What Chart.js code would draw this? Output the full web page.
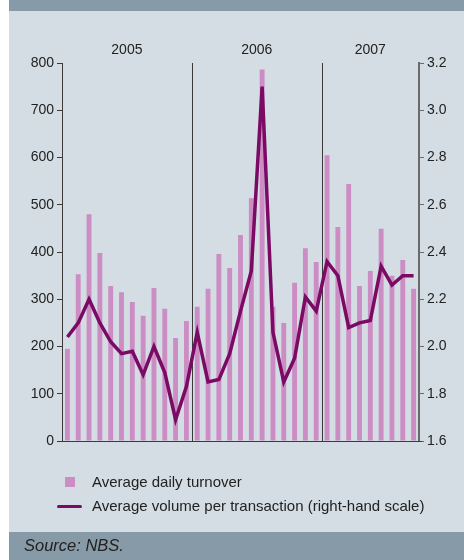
<!DOCTYPE html>
<html>
<head>
<meta charset="utf-8">
<script src="https://cdn.jsdelivr.net/npm/chart.js@4/dist/chart.umd.min.js"></script>
<style>
  html, body { margin: 0; padding: 0; background: #fff; }
  #wrap { position: relative; width: 464px; height: 560px; overflow: hidden; font-family: "Liberation Sans", Arial, sans-serif; color: #222; }
  #panel { position: absolute; left: 9px; top: 0; width: 455px; height: 560px; background: #d3dde3; }
  #head { position: absolute; left: 9px; top: 0; width: 455px; height: 11px; background: #869ba7; }
  #foot { position: absolute; left: 9px; top: 532px; width: 455px; height: 28px; background: #869ba7; }
  #foot span { position: absolute; left: 15px; top: 4px; font-size: 16.5px; font-style: italic; color: #222; }
  #chart { position: absolute; left: 0; top: 0; }
  .leg { position: absolute; left: 0; font-size: 15px; line-height: 18px; white-space: nowrap; }
  .leg i { position: absolute; display: block; }
  .leg span { position: absolute; left: 92px; top: 0; }
</style>
</head>
<body>
<div id="wrap">
  <div id="panel"></div>
  <div id="head"></div>
  <canvas id="chart" width="464" height="560"></canvas>
  <div class="leg" style="top:473px;width:464px;height:18px">
    <i style="left:65px;top:4px;width:10px;height:10px;background:#cb8dc3"></i>
    <span>Average daily turnover</span>
  </div>
  <div class="leg" style="top:497px;width:464px;height:18px">
    <i style="left:57px;top:8px;width:25px;height:3px;border-radius:2px;background:#7a0a63"></i>
    <span>Average volume per transaction (right-hand scale)</span>
  </div>
  <div id="foot"><span>Source: NBS.</span></div>
</div>
<script>
const months = [
  '2005-01', '2005-02', '2005-03', '2005-04', '2005-05', '2005-06',
  '2005-07', '2005-08', '2005-09', '2005-10', '2005-11', '2005-12',
  '2006-01', '2006-02', '2006-03', '2006-04', '2006-05', '2006-06',
  '2006-07', '2006-08', '2006-09', '2006-10', '2006-11', '2006-12',
  '2007-01', '2007-02', '2007-03', '2007-04', '2007-05', '2007-06',
  '2007-07', '2007-08', '2007-09'
];
const years = ['2005', '2006', '2007'];

// average daily turnover (left scale)
const turnover = [
  195, 353, 480, 398, 328, 315, 294, 265, 324, 280, 218, 254,
  284, 322, 396, 366, 436, 514, 786, 284, 250, 335, 408, 379,
  605, 453, 544, 328, 360, 449, 350, 383, 322
];
// average volume per transaction (right scale)
const volume = [
  2.04, 2.10, 2.20, 2.10, 2.02, 1.97, 1.98, 1.88, 2.00, 1.89, 1.69, 1.83,
  2.06, 1.85, 1.86, 1.97, 2.15, 2.32, 3.10, 2.06, 1.85, 1.95, 2.21, 2.15,
  2.36, 2.30, 2.08, 2.10, 2.11, 2.34, 2.26, 2.30, 2.30
];

const leftTicks = { min: 0, max: 800, step: 100 };
const rightTicks = { min: 1.6, max: 3.2, step: 0.2 };

const fontFamily = '"Liberation Sans", Arial, sans-serif';

// year dividers, baseline and year captions above the plot
const yearMarks = {
  id: 'yearMarks',
  beforeDatasetsDraw(chart) {
    const { ctx, chartArea, scales } = chart;
    const x = scales.x;
    ctx.save();
    ctx.strokeStyle = '#3a3a3a';
    ctx.lineWidth = 1;
    years.forEach((yr, i) => {
      if (i === 0) return;
      const first = months.findIndex(m => m.startsWith(yr));
      const px = Math.round((x.getPixelForValue(first - 1) + x.getPixelForValue(first)) / 2) + 0.5;
      ctx.beginPath();
      ctx.moveTo(px, chartArea.top);
      ctx.lineTo(px, chartArea.bottom);
      ctx.stroke();
    });
    ctx.beginPath();
    ctx.moveTo(chartArea.left - 5, Math.round(chartArea.bottom) + 0.5);
    ctx.lineTo(chartArea.right + 3, Math.round(chartArea.bottom) + 0.5);
    ctx.stroke();

    ctx.fillStyle = '#222';
    ctx.font = '14px ' + fontFamily;
    ctx.textAlign = 'center';
    ctx.textBaseline = 'middle';
    years.forEach(yr => {
      const first = months.findIndex(m => m.startsWith(yr));
      let last = first;
      while (last + 1 < months.length && months[last + 1].startsWith(yr)) last++;
      const half = (x.getPixelForValue(1) - x.getPixelForValue(0)) / 2;
      const cx = (x.getPixelForValue(first) - half + x.getPixelForValue(last) + half) / 2;
      ctx.fillText(yr, cx, chartArea.top - 13);
    });
    ctx.restore();
  }
};

new Chart(document.getElementById('chart'), {
  data: {
    labels: months,
    datasets: [
      {
        type: 'line',
        label: 'Average volume per transaction (right-hand scale)',
        data: volume,
        yAxisID: 'y1',
        borderColor: '#7a0a63',
        borderWidth: 3.5,
        pointRadius: 0,
        tension: 0,
        fill: false,
        order: 0
      },
      {
        type: 'bar',
        label: 'Average daily turnover',
        data: turnover,
        yAxisID: 'y',
        backgroundColor: '#cb8dc3',
        categoryPercentage: 1,
        barPercentage: 0.45,
        order: 1
      }
    ]
  },
  options: {
    responsive: false,
    animation: false,
    layout: { padding: { top: 63, bottom: 119, left: 0, right: 0 } },
    plugins: { legend: { display: false }, tooltip: { enabled: false } },
    scales: {
      x: { display: false, offset: true },
      y: {
        position: 'left',
        min: leftTicks.min,
        max: leftTicks.max,
        ticks: { stepSize: leftTicks.step, color: '#222', padding: 3, font: { size: 14, family: fontFamily } },
        grid: { drawOnChartArea: false, drawTicks: true, tickLength: 5, color: '#3a3a3a' },
        border: { color: '#3a3a3a', width: 1 },
        afterFit(s) { s.width = 62; }
      },
      y1: {
        position: 'right',
        min: rightTicks.min,
        max: rightTicks.max,
        ticks: {
          stepSize: rightTicks.step,
          color: '#222',
          padding: 3,
          font: { size: 14, family: fontFamily },
          callback: v => v.toFixed(1)
        },
        grid: { drawOnChartArea: false, drawTicks: true, tickLength: 5, color: '#6a6a6a' },
        border: { color: '#6a6a6a', width: 2 },
        afterFit(s) { s.width = 45; }
      }
    }
  },
  plugins: [yearMarks]
});
</script>
</body>
</html>
